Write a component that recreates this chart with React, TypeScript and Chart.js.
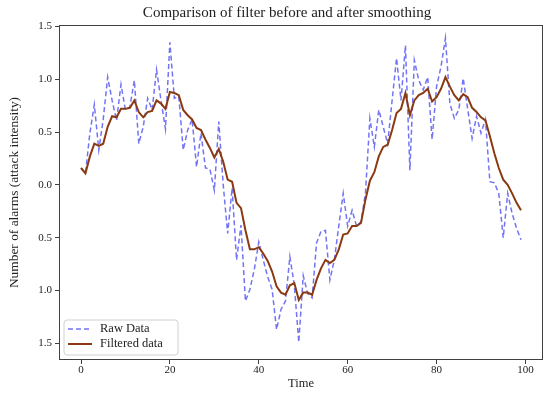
import React, { useEffect, useRef } from "react";
import { Chart, registerables } from "chart.js";
Chart.register(...registerables);

const FONT = "'Liberation Serif', 'DejaVu Serif', serif";

const chartTitle = "Comparison of filter before and after smoothing";
const xAxisLabel = "Time";
const yAxisLabel = "Number of alarms (attack intensity)";
const seriesNames = ["Raw Data", "Filtered data"];
const xTicks = [0, 20, 40, 60, 80, 100];
const yTicks = [-1.5, -1.0, -0.5, 0.0, 0.5, 1.0, 1.5];

const rawData = [
  0.16, 0.11, 0.49, 0.76, 0.33, 0.62, 1.02, 0.8, 0.61, 0.95,
  0.71, 0.74, 0.99, 0.39, 0.55, 0.82, 0.71, 1.09, 0.8, 0.53,
  1.35, 0.82, 0.84, 0.33, 0.52, 0.62, 0.17, 0.49, 0.16, 0.15,
  -0.05, 0.6, 0.0, -0.46, -0.03, -0.71, -0.38, -1.1, -0.99, -0.8,
  -0.54, -0.71, -0.87, -0.99, -1.37, -1.18, -1.1, -0.68, -0.95, -1.49,
  -0.86, -1.03, -1.07, -0.55, -0.44, -0.43, -0.9, -0.71, -0.39, -0.08,
  -0.39, -0.24, -0.39, -0.35, -0.08, 0.63, 0.36, 0.71, 0.55, 0.39,
  0.8, 1.2, 0.8, 1.32, 0.14, 1.18, 0.99, 0.9, 1.02, 0.43,
  0.93, 1.12, 1.39, 0.77, 0.63, 0.71, 1.01, 0.72, 0.44, 0.65,
  0.49, 0.62, 0.03, 0.02, -0.08, -0.5, -0.08, -0.27, -0.41, -0.52,
];

const filteredData = [
  0.16, 0.11, 0.27, 0.39, 0.37, 0.39, 0.55, 0.65, 0.64, 0.72,
  0.72, 0.73, 0.8, 0.69, 0.64, 0.69, 0.7, 0.8, 0.77, 0.72,
  0.88, 0.87, 0.85, 0.71, 0.66, 0.62, 0.54, 0.52, 0.43, 0.35,
  0.26, 0.34, 0.22, 0.05, 0.03, -0.17, -0.22, -0.43, -0.61, -0.61,
  -0.59, -0.65, -0.72, -0.82, -0.96, -1.02, -1.04, -0.95, -0.93, -1.09,
  -1.02, -1.02, -1.04, -0.9, -0.79, -0.71, -0.74, -0.71, -0.61, -0.47,
  -0.46, -0.39, -0.39, -0.36, -0.14, 0.04, 0.12, 0.27, 0.36, 0.38,
  0.52, 0.68, 0.72, 0.87, 0.66, 0.8, 0.85, 0.87, 0.91, 0.79,
  0.83, 0.91, 1.02, 0.93, 0.85, 0.8, 0.86, 0.83, 0.73, 0.69,
  0.64, 0.61, 0.46, 0.3, 0.16, 0.05, 0.0, -0.08, -0.17, -0.24,
];

const timeSteps = rawData.map((_, i) => i);

const RAW_COLOR = "rgba(40,40,240,0.65)";
const FILT_COLOR = "#8a3a12";

const decorPlugin = {
  id: "decor",
  afterDatasetsDraw(chart: any) {
    const { ctx, chartArea } = chart;
    const { left, right, top, bottom } = chartArea;
    ctx.save();
    ctx.strokeStyle = "#404040";
    ctx.lineWidth = 1;
    ctx.strokeRect(left + 0.5, top + 0.5, right - left - 1, bottom - top - 1);
    const bx = left + 5, by = bottom - 40, bw = 114, bh = 35;
    ctx.beginPath();
    const r = 3;
    ctx.moveTo(bx + r, by);
    ctx.lineTo(bx + bw - r, by);
    ctx.quadraticCurveTo(bx + bw, by, bx + bw, by + r);
    ctx.lineTo(bx + bw, by + bh - r);
    ctx.quadraticCurveTo(bx + bw, by + bh, bx + bw - r, by + bh);
    ctx.lineTo(bx + r, by + bh);
    ctx.quadraticCurveTo(bx, by + bh, bx, by + bh - r);
    ctx.lineTo(bx, by + r);
    ctx.quadraticCurveTo(bx, by, bx + r, by);
    ctx.closePath();
    ctx.fillStyle = "rgba(255,255,255,0.8)";
    ctx.fill();
    ctx.strokeStyle = "#d0d0d0";
    ctx.stroke();
    const y1 = by + 9, y2 = by + 24;
    ctx.beginPath();
    ctx.setLineDash([5, 3]);
    ctx.strokeStyle = RAW_COLOR;
    ctx.lineWidth = 1.5;
    ctx.moveTo(bx + 4, y1);
    ctx.lineTo(bx + 28, y1);
    ctx.stroke();
    ctx.setLineDash([]);
    ctx.beginPath();
    ctx.strokeStyle = FILT_COLOR;
    ctx.lineWidth = 2;
    ctx.moveTo(bx + 4, y2);
    ctx.lineTo(bx + 28, y2);
    ctx.stroke();
    ctx.fillStyle = "#222";
    ctx.font = `12.5px ${FONT}`;
    ctx.textBaseline = "middle";
    ctx.textAlign = "left";
    ctx.fillText(seriesNames[0], bx + 36, y1);
    ctx.fillText(seriesNames[1], bx + 36, y2);
    ctx.font = `15px ${FONT}`;
    ctx.textAlign = "center";
    ctx.fillText(chartTitle, 287, 13);
    ctx.restore();
  },
};

export default function App() {
  const ref = useRef<HTMLCanvasElement>(null);
  useEffect(() => {
    if (!ref.current) return;
    const chart = new Chart(ref.current, {
      type: "line",
      data: {
        labels: timeSteps,
        datasets: [
          {
            label: seriesNames[1],
            data: filteredData.map((v, i) => ({ x: timeSteps[i], y: v })),
            borderColor: FILT_COLOR,
            borderWidth: 2,
            pointRadius: 0,
            tension: 0,
            order: 0,
          },
          {
            label: seriesNames[0],
            data: rawData.map((v, i) => ({ x: timeSteps[i], y: v })),
            borderColor: RAW_COLOR,
            borderWidth: 1.5,
            borderDash: [5, 3],
            pointRadius: 0,
            tension: 0,
            order: 1,
          },
        ],
      },
      options: {
        animation: false,
        responsive: true,
        maintainAspectRatio: false,
        layout: { padding: { top: 25, right: 7, left: 0, bottom: 0 } },
        plugins: { legend: { display: false }, title: { display: false }, tooltip: { enabled: false } },
        scales: {
          x: {
            type: "linear",
            min: -4.95,
            max: 103.95,
            afterBuildTicks: (s: any) => { s.ticks = xTicks.map((v) => ({ value: v })); },
            afterFit: (s: any) => { s.height = 37; },
            ticks: { color: "#222", font: { family: FONT, size: 11 }, padding: 0, callback: (v: any) => String(v) },
            grid: { display: true, drawOnChartArea: false, drawTicks: true, tickLength: 4, color: "#404040" },
            border: { display: false },
            title: { display: true, text: xAxisLabel, color: "#222", font: { family: FONT, size: 12.5 }, padding: { top: 0, bottom: 6 } },
          },
          y: {
            min: -1.658,
            max: 1.514,
            afterBuildTicks: (s: any) => { s.ticks = yTicks.map((v) => ({ value: v })); },
            afterFit: (s: any) => { s.width = 59; },
            ticks: { color: "#222", font: { family: FONT, size: 11 }, padding: 3, callback: (v: any) => Math.abs(Number(v)).toFixed(1) },
            grid: { display: true, drawOnChartArea: false, drawTicks: true, tickLength: 4, color: "#404040" },
            border: { display: false },
            title: { display: true, text: yAxisLabel, color: "#222", font: { family: FONT, size: 13.4 }, padding: { top: 6, bottom: 0 } },
          },
        },
      },
      plugins: [decorPlugin],
    });
    return () => chart.destroy();
  }, []);
  return (
    <div style={{ position: "absolute", left: 0, top: 0, width: 550, height: 397 }}>
      <canvas ref={ref} />
    </div>
  );
}
